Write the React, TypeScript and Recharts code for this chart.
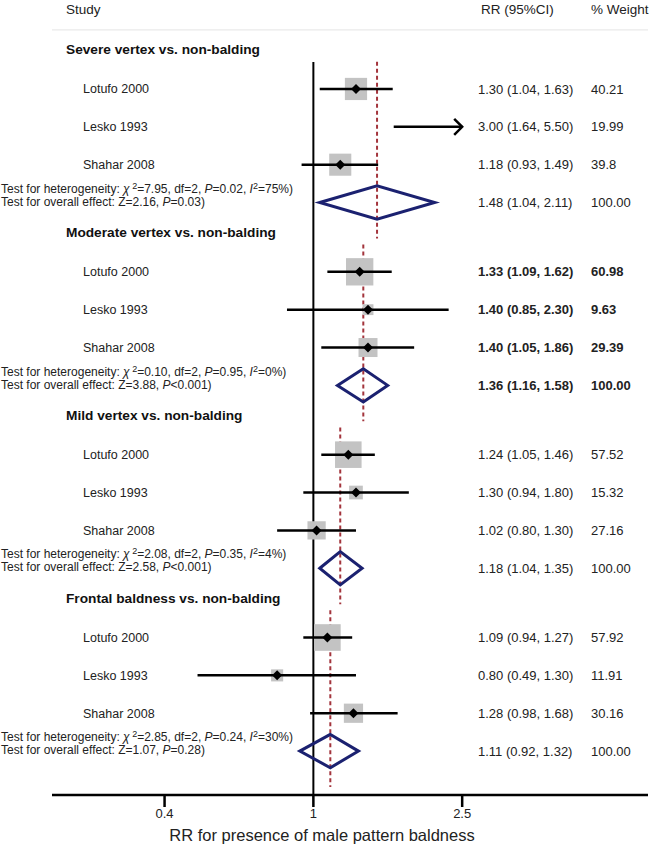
import React from 'react';
import { ComposedChart, Scatter, XAxis, YAxis, ReferenceLine } from 'recharts';

const groupTitles = [
  'Severe vertex vs. non-balding',
  'Moderate vertex vs. non-balding',
  'Mild vertex vs. non-balding',
  'Frontal baldness vs. non-balding',
];
const studyNames = ['Lotufo 2000', 'Lesko 1993', 'Shahar 2008'];
const studyRR = [[1.3, 3.0, 1.18], [1.33, 1.4, 1.4], [1.24, 1.3, 1.02], [1.09, 0.8, 1.28]];
const studyLow = [[1.04, 1.64, 0.93], [1.09, 0.85, 1.05], [1.05, 0.94, 0.8], [0.94, 0.49, 0.98]];
const studyHigh = [[1.63, 5.5, 1.49], [1.62, 2.3, 1.86], [1.46, 1.8, 1.3], [1.27, 1.3, 1.68]];
const studyWeight = [[40.21, 19.99, 39.8], [60.98, 9.63, 29.39], [57.52, 15.32, 27.16], [57.92, 11.91, 30.16]];
const pooledRR = [1.48, 1.36, 1.18, 1.11];
const pooledLow = [1.04, 1.16, 1.04, 0.92];
const pooledHigh = [2.11, 1.58, 1.35, 1.32];
const pooledWeight = [100, 100, 100, 100];
const hetChi2 = ['7.95', '0.10', '2.08', '2.85'];
const hetDf = ['2', '2', '2', '2'];
const hetP = ['0.02', '0.95', '0.35', '0.24'];
const hetI2 = ['75%', '0%', '4%', '30%'];
const effectZ = ['2.16', '3.88', '2.58', '1.07'];
const effectP = ['=0.03', '<0.001', '<0.001', '=0.28'];
const xTicks = [0.4, 1, 2.5];
const columnHeaders = ['Study', 'RR (95%CI)', '% Weight'];
const xAxisTitle = 'RR for presence of male pattern baldness';

// ---- layout / style ----
const FONT = '"Liberation Sans", Arial, Helvetica, sans-serif';
const X_DOMAIN: [number, number] = [0.2, 7.85];
const Y_DOMAIN: [number, number] = [0, 21];
const CLIP_MAX = 2.5;
const titleY = (g: number) => 1.3 + g * 4.83;
const studyY = (g: number, i: number) => titleY(g) + 1.05 + i;
const pooledY = (g: number) => titleY(g) + 4.05;
const DIAMOND_HALF = 0.44;
const BOX_SCALE = 3.5;
const BOLD_GROUP = [false, true, false, false];
const NAME_X = 83;
const TITLE_X = 66;
const TEST_X = 1;
const RR_X = 478;
const W_X = 591;
const NAVY = '#1b2170';
const RED = '#a3343c';

const fmt = (v: number) => v.toFixed(2);
const ciText = (r: number, l: number, h: number) => `${fmt(r)} (${fmt(l)}, ${fmt(h)})`;

const Empty = () => <g />;

const BoxShape = (p: any) => {
  const { cx, cy, payload } = p;
  const { g, i } = payload;
  if (studyRR[g][i] > CLIP_MAX) return <g />;
  const s = BOX_SCALE * Math.sqrt(studyWeight[g][i]);
  return <rect x={cx - s / 2} y={cy - s / 2} width={s} height={s} fill="#c3c3c3" />;
};

const StudyShape = (p: any) => {
  const { cx, cy, payload } = p;
  const { g, i } = payload;
  const clipped = studyRR[g][i] > CLIP_MAX;
  const fw = BOLD_GROUP[g] ? 'bold' : 'normal';
  return (
    <g>
      {clipped ? (
        <polyline
          points={`${cx - 8},${cy - 8} ${cx},${cy} ${cx - 8},${cy + 8}`}
          fill="none"
          stroke="#000"
          strokeWidth={2.5}
        />
      ) : (
        <polygon points={`${cx - 5},${cy} ${cx},${cy - 5} ${cx + 5},${cy} ${cx},${cy + 5}`} fill="#000" />
      )}
      <text x={NAME_X} y={cy} dy="0.35em" fontFamily={FONT} fontSize={12.5} fill="#222">
        {studyNames[i]}
      </text>
      <text x={RR_X} y={cy} dy="0.35em" fontFamily={FONT} fontSize={13} fontWeight={fw} fill="#222">
        {ciText(studyRR[g][i], studyLow[g][i], studyHigh[g][i])}
      </text>
      <text x={W_X} y={cy} dy="0.35em" fontFamily={FONT} fontSize={13} fontWeight={fw} fill="#222">
        {String(studyWeight[g][i])}
      </text>
    </g>
  );
};

const PooledShape = (p: any) => {
  const { cy, payload } = p;
  const { g } = payload;
  const fw = BOLD_GROUP[g] ? 'bold' : 'normal';
  return (
    <g>
      <text x={TEST_X} y={cy - 14} dy="0.35em" fontFamily={FONT} fontSize={12} fill="#222">
        <tspan>Test for heterogeneity: </tspan>
        <tspan fontStyle="italic">χ</tspan>
        <tspan dy={-4} fontSize={9}> 2</tspan>
        <tspan dy={4}>{`=${hetChi2[g]}, df=${hetDf[g]}, `}</tspan>
        <tspan fontStyle="italic">P</tspan>
        <tspan>{`=${hetP[g]}, `}</tspan>
        <tspan fontStyle="italic">I</tspan>
        <tspan dy={-4} fontSize={9}>2</tspan>
        <tspan dy={4}>{`=${hetI2[g]})`}</tspan>
      </text>
      <text x={TEST_X} y={cy - 1} dy="0.35em" fontFamily={FONT} fontSize={12} fill="#222">
        <tspan>{`Test for overall effect: Z=${effectZ[g]}, `}</tspan>
        <tspan fontStyle="italic">P</tspan>
        <tspan>{`${effectP[g]})`}</tspan>
      </text>
      <text x={RR_X} y={cy} dy="0.35em" fontFamily={FONT} fontSize={13} fontWeight={fw} fill="#222">
        {ciText(pooledRR[g], pooledLow[g], pooledHigh[g])}
      </text>
      <text x={W_X} y={cy} dy="0.35em" fontFamily={FONT} fontSize={13} fontWeight={fw} fill="#222">
        {fmt(pooledWeight[g])}
      </text>
    </g>
  );
};

const TitleShape = (p: any) => (
  <text x={TITLE_X} y={p.cy} dy="0.35em" fontFamily={FONT} fontSize={13.7} fontWeight="bold" fill="#111">
    {groupTitles[p.payload.g]}
  </text>
);

const ColumnHeadShape = (p: any) => (
  <g fontFamily={FONT} fontSize={13.5} fill="#222">
    <text x={66} y={p.cy} dy="0.35em">{columnHeaders[0]}</text>
    <text x={481} y={p.cy} dy="0.35em">{columnHeaders[1]}</text>
    <text x={591} y={p.cy} dy="0.35em">{columnHeaders[2]}</text>
  </g>
);

const AxisTick = (p: any) => (
  <text x={p.x} y={p.y} dy="0.71em" textAnchor="middle" fontFamily={FONT} fontSize={13} fill="#222">
    {String(p.payload.value)}
  </text>
);

const AxisTitle = (p: any) => {
  const vb = p.viewBox || { x: 52, y: 795 };
  return (
    <text x={vb.x + 270} y={vb.y + 46} textAnchor="middle" fontFamily={FONT} fontSize={16.5} fill="#222">
      {xAxisTitle}
    </text>
  );
};

export default function App() {
  const headData = [{ x: 1, y: 0.24 }];
  const titleData = groupTitles.map((_, g) => ({ x: 1, y: titleY(g), g }));
  const studyData = studyRR.flatMap((arr, g) =>
    arr.map((v, i) => ({ x: Math.min(v, CLIP_MAX), y: studyY(g, i), g, i }))
  );
  const pooledData = pooledRR.map((v, g) => ({ x: v, y: pooledY(g), g }));

  return (
    <div style={{ position: 'absolute', left: 0, top: 0, width: 650, height: 846, background: '#fff' }}>
      <ComposedChart width={650} height={846} margin={{ top: 0, right: 2, bottom: 0, left: 52 }}>
        <XAxis
          dataKey="x"
          type="number"
          scale="log"
          domain={X_DOMAIN}
          ticks={xTicks}
          interval={0}
          height={51}
          tickSize={12}
          axisLine={{ stroke: '#000', strokeWidth: 2.5 }}
          tickLine={{ stroke: '#000', strokeWidth: 2.5 }}
          tick={<AxisTick />}
          label={<AxisTitle />}
        />
        <YAxis dataKey="y" type="number" domain={Y_DOMAIN} reversed hide width={0} />
        <ReferenceLine
          segment={[{ x: X_DOMAIN[0], y: 0.79 }, { x: X_DOMAIN[1], y: 0.79 }]}
          stroke="#e4e4e4"
          strokeWidth={1}
          ifOverflow="visible"
        />
        <ReferenceLine
          segment={[{ x: 1, y: 1.64 }, { x: 1, y: Y_DOMAIN[1] }]}
          stroke="#000"
          strokeWidth={2}
          ifOverflow="visible"
        />
        {pooledRR.map((v, g) => (
          <ReferenceLine
            key={`dash-${g}`}
            segment={[{ x: v, y: titleY(g) + 0.33 }, { x: v, y: pooledY(g) + 0.95 }]}
            stroke={RED}
            strokeWidth={2}
            strokeDasharray="4 3"
            ifOverflow="visible"
          />
        ))}
        <Scatter data={studyData} shape={BoxShape} isAnimationActive={false} />
        {studyData.map((d) => (
          <Scatter
            key={`ci-${d.g}-${d.i}`}
            data={[
              { x: studyLow[d.g][d.i], y: d.y },
              { x: Math.min(studyHigh[d.g][d.i], CLIP_MAX), y: d.y },
            ]}
            line={{ stroke: '#000', strokeWidth: 2.5 }}
            shape={Empty}
            isAnimationActive={false}
          />
        ))}
        {pooledRR.map((v, g) => {
          const y = pooledY(g);
          return (
            <Scatter
              key={`dia-${g}`}
              data={[
                { x: pooledLow[g], y },
                { x: v, y: y - DIAMOND_HALF },
                { x: pooledHigh[g], y },
                { x: v, y: y + DIAMOND_HALF },
                { x: pooledLow[g], y },
                { x: v, y: y - DIAMOND_HALF },
              ]}
              line={{ stroke: NAVY, strokeWidth: 3, strokeLinejoin: 'miter' }}
              shape={Empty}
              isAnimationActive={false}
            />
          );
        })}
        <Scatter data={studyData} shape={StudyShape} isAnimationActive={false} />
        <Scatter data={pooledData} shape={PooledShape} isAnimationActive={false} />
        <Scatter data={titleData} shape={TitleShape} isAnimationActive={false} />
        <Scatter data={headData} shape={ColumnHeadShape} isAnimationActive={false} />
      </ComposedChart>
    </div>
  );
}
